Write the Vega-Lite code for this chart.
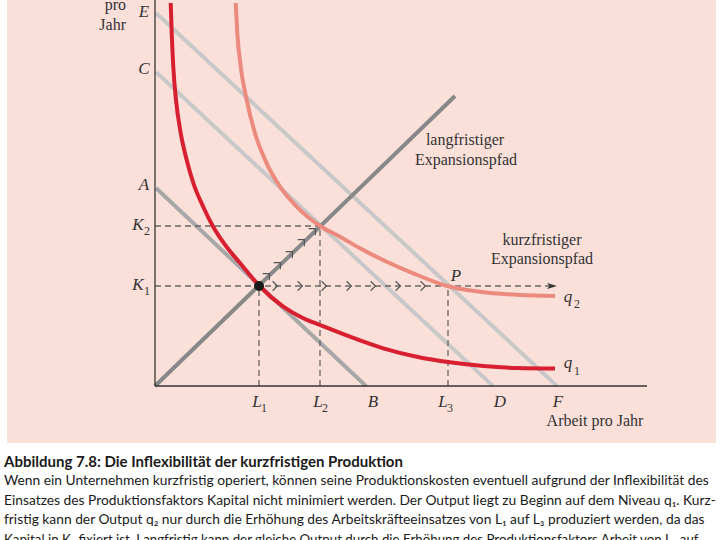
{
 "$schema": "https://vega.github.io/schema/vega-lite/v6.json",
 "width": 722, "height": 540,
 "autosize": {"type": "none"},
 "padding": 0,
 "background": "#ffffff",
 "config": {"view": {"stroke": null}, "axis": {"disable": true}},
 "datasets": {
  "bg": [{"x": -14.8, "x2": 56.1, "y": -5.7, "y2": 38.6}],
  "axes": [{"x": 0, "y": 0, "x2": 0, "y2": 38.6}, {"x": 0, "y": 0, "x2": 49.2, "y2": 0}],
  "isoAB": [{"x": 0.1, "y": 19.8, "x2": 21.1, "y2": 0}],
  "isoCDEF": [{"x": 0.1, "y": 31.4, "x2": 33.8, "y2": 0}, {"x": 0.1, "y": 37.3, "x2": 40.2, "y2": 0}],
  "lr": [{"x": 0, "y": 0, "x2": 30.0, "y2": 29.0}],
  "dash": [
   {"x": 0, "y": 16.0, "x2": 16.5, "y2": 16.0},
   {"x": 0, "y": 10.0, "x2": 39.4, "y2": 10.0},
   {"x": 10.4, "y": 0, "x2": 10.4, "y2": 10.0},
   {"x": 16.5, "y": 0, "x2": 16.5, "y2": 16.0},
   {"x": 29.3, "y": 0, "x2": 29.3, "y2": 10.0}
  ],
  "curves": [
   {"curve": "q1", "x": 1.57, "y": 38.3},
   {"curve": "q1", "x": 1.67, "y": 35.3},
   {"curve": "q1", "x": 1.83, "y": 31.9},
   {"curve": "q1", "x": 2.1, "y": 28.6},
   {"curve": "q1", "x": 2.57, "y": 25.3},
   {"curve": "q1", "x": 3.17, "y": 22.6},
   {"curve": "q1", "x": 3.83, "y": 20.3},
   {"curve": "q1", "x": 4.83, "y": 17.9},
   {"curve": "q1", "x": 5.83, "y": 15.9},
   {"curve": "q1", "x": 7.17, "y": 13.9},
   {"curve": "q1", "x": 8.5, "y": 12.3},
   {"curve": "q1", "x": 10.4, "y": 10.05},
   {"curve": "q1", "x": 12.83, "y": 7.93},
   {"curve": "q1", "x": 14.83, "y": 6.77},
   {"curve": "q1", "x": 16.5, "y": 6.1},
   {"curve": "q1", "x": 19.5, "y": 4.93},
   {"curve": "q1", "x": 22.83, "y": 3.77},
   {"curve": "q1", "x": 26.17, "y": 2.93},
   {"curve": "q1", "x": 29.5, "y": 2.37},
   {"curve": "q1", "x": 32.83, "y": 2.0},
   {"curve": "q1", "x": 36.17, "y": 1.8},
   {"curve": "q1", "x": 40.0, "y": 1.75},
   {"curve": "q2", "x": 8.07, "y": 38.3},
   {"curve": "q2", "x": 8.23, "y": 35.27},
   {"curve": "q2", "x": 8.57, "y": 31.93},
   {"curve": "q2", "x": 9.17, "y": 28.6},
   {"curve": "q2", "x": 10.0, "y": 25.27},
   {"curve": "q2", "x": 11.17, "y": 22.27},
   {"curve": "q2", "x": 12.5, "y": 19.93},
   {"curve": "q2", "x": 14.17, "y": 17.93},
   {"curve": "q2", "x": 16.5, "y": 16.0},
   {"curve": "q2", "x": 18.5, "y": 14.93},
   {"curve": "q2", "x": 20.5, "y": 13.77},
   {"curve": "q2", "x": 23.17, "y": 12.43},
   {"curve": "q2", "x": 25.83, "y": 11.27},
   {"curve": "q2", "x": 29.2, "y": 10.0},
   {"curve": "q2", "x": 32.5, "y": 9.43},
   {"curve": "q2", "x": 36.5, "y": 9.1},
   {"curve": "q2", "x": 40.0, "y": 9.0}
  ],
  "chevH": [{"x": 12.0, "y": 10.0}, {"x": 14.5, "y": 10.0}, {"x": 16.9, "y": 10.0}, {"x": 19.4, "y": 10.0}, {"x": 21.8, "y": 10.0}, {"x": 24.3, "y": 10.0}, {"x": 26.8, "y": 10.0}],
  "chevD": [{"x": 11.1, "y": 10.9}, {"x": 12.2, "y": 12.0}, {"x": 13.4, "y": 13.1}, {"x": 14.6, "y": 14.3}, {"x": 15.7, "y": 15.4}],
  "arrow": [{"x": 39.7, "y": 10.0}],
  "dot": [{"x": 10.4, "y": 10.0}],
  "letters": [
   {"x": -1.1, "y": 37.4, "t": "E"}, {"x": -1.1, "y": 31.7, "t": "C"}, {"x": -1.1, "y": 20.1, "t": "A"},
   {"x": -1.7, "y": 16.1, "t": "K"}, {"x": -1.7, "y": 10.1, "t": "K"},
   {"x": 10.2, "y": -1.6, "t": "L"}, {"x": 16.3, "y": -1.6, "t": "L"}, {"x": 28.8, "y": -1.6, "t": "L"},
   {"x": 21.8, "y": -1.6, "t": "B"}, {"x": 34.5, "y": -1.6, "t": "D"}, {"x": 40.3, "y": -1.6, "t": "F"},
   {"x": 30.1, "y": 11.0, "t": "P"}, {"x": 41.3, "y": 8.9, "t": "q"}, {"x": 41.3, "y": 2.3, "t": "q"}
  ],
  "subs": [
   {"x": -0.8, "y": 15.5, "t": "2"}, {"x": -0.8, "y": 9.5, "t": "1"},
   {"x": 10.9, "y": -2.2, "t": "1"}, {"x": 17.0, "y": -2.2, "t": "2"}, {"x": 29.5, "y": -2.2, "t": "3"},
   {"x": 42.2, "y": 8.2, "t": "2"}, {"x": 42.2, "y": 1.5, "t": "1"}
  ],
  "words": [
   {"x": 31.0, "y": 24.6, "t": "langfristiger"}, {"x": 31.1, "y": 22.6, "t": "Expansionspfad"},
   {"x": 38.7, "y": 14.6, "t": "kurzfristiger"}, {"x": 38.7, "y": 12.7, "t": "Expansionspfad"},
   {"x": 44.0, "y": -3.5, "t": "Arbeit pro Jahr"}
  ],
  "ylab": [{"x": -2.9, "y": 38.1, "t": "pro"}, {"x": -2.9, "y": 36.1, "t": "Jahr"}],
  "title": [{"x": -15.1, "y": -7.6, "t": "Abbildung 7.8: Die Inflexibilität der kurzfristigen Produktion"}],
  "body": [
   {"x": -15.1, "y": -9.5, "t": "Wenn ein Unternehmen kurzfristig operiert, können seine Produktionskosten eventuell aufgrund der Inflexibilität des"},
   {"x": -15.1, "y": -11.45, "t": "Einsatzes des Produktionsfaktors Kapital nicht minimiert werden. Der Output liegt zu Beginn auf dem Niveau q₁. Kurz-"},
   {"x": -15.1, "y": -13.4, "t": "fristig kann der Output q₂ nur durch die Erhöhung des Arbeitskräfteeinsatzes von L₁ auf L₃ produziert werden, da das"}
  ],
  "body5": [
   {"x": -15.1, "y": -15.4, "t": "Kapital in K₁ fixiert ist. Langfristig kann der gleiche Output durch die Erhöhung des Produktionsfaktors Arbeit von L₁ auf"}
  ]
 },
 "encoding": {
  "x": {"field": "x", "type": "quantitative", "scale": {"domain": [-15.5, 56.7], "nice": false, "zero": false}, "axis": null},
  "y": {"field": "y", "type": "quantitative", "scale": {"domain": [-15.4, 38.6], "nice": false, "zero": false}, "axis": null}
 },
 "layer": [
  {"data": {"name": "bg"}, "mark": {"type": "rect", "color": "#fbe0da"}, "encoding": {"x2": {"field": "x2"}, "y2": {"field": "y2"}}},
  {"data": {"name": "isoCDEF"}, "mark": {"type": "rule", "color": "#c8c8c8", "strokeWidth": 4}, "encoding": {"x2": {"field": "x2"}, "y2": {"field": "y2"}}},
  {"data": {"name": "isoAB"}, "mark": {"type": "rule", "color": "#a7a7a7", "strokeWidth": 4}, "encoding": {"x2": {"field": "x2"}, "y2": {"field": "y2"}}},
  {"data": {"name": "dash"}, "mark": {"type": "rule", "color": "#666666", "strokeWidth": 1.3, "strokeDash": [6, 4]}, "encoding": {"x2": {"field": "x2"}, "y2": {"field": "y2"}}},
  {"data": {"name": "lr"}, "mark": {"type": "rule", "color": "#888888", "strokeWidth": 4}, "encoding": {"x2": {"field": "x2"}, "y2": {"field": "y2"}}},
  {"data": {"name": "axes"}, "mark": {"type": "rule", "color": "#333333", "strokeWidth": 1.3}, "encoding": {"x2": {"field": "x2"}, "y2": {"field": "y2"}}},
  {"data": {"name": "curves"}, "mark": {"type": "line", "strokeWidth": 4, "interpolate": "monotone"}, "encoding": {"color": {"field": "curve", "type": "nominal", "scale": {"domain": ["q1", "q2"], "range": ["#d81f30", "#ec8a7e"]}, "legend": null}}},
  {"data": {"name": "chevH"}, "mark": {"type": "point", "shape": "M-0.5,-1L0.5,0L-0.5,1", "size": 90, "filled": false, "color": "#555555", "strokeWidth": 1.2, "opacity": 1}},
  {"data": {"name": "chevD"}, "mark": {"type": "point", "shape": "M-1,-1L1,-1L1,1", "size": 45, "filled": false, "color": "#555555", "strokeWidth": 1.2, "opacity": 1}},
  {"data": {"name": "arrow"}, "mark": {"type": "point", "shape": "M-1,-0.6L1,0L-1,0.6L-0.5,0Z", "size": 100, "filled": true, "color": "#333333", "opacity": 1}},
  {"data": {"name": "dot"}, "mark": {"type": "circle", "size": 100, "color": "#1a1a1a", "opacity": 1}},
  {"data": {"name": "letters"}, "mark": {"type": "text", "font": "Liberation Serif", "fontStyle": "italic", "fontSize": 17, "color": "#333333", "align": "center", "baseline": "middle"}, "encoding": {"text": {"field": "t"}}},
  {"data": {"name": "subs"}, "mark": {"type": "text", "font": "Liberation Serif", "fontSize": 12, "color": "#333333", "align": "center", "baseline": "middle"}, "encoding": {"text": {"field": "t"}}},
  {"data": {"name": "words"}, "mark": {"type": "text", "font": "Liberation Serif", "fontSize": 16, "color": "#333333", "align": "center", "baseline": "middle"}, "encoding": {"text": {"field": "t"}}},
  {"data": {"name": "ylab"}, "mark": {"type": "text", "font": "Liberation Serif", "fontSize": 16, "color": "#333333", "align": "right", "baseline": "middle"}, "encoding": {"text": {"field": "t"}}},
  {"data": {"name": "title"}, "mark": {"type": "text", "font": "Lato", "fontWeight": "bold", "fontSize": 15, "color": "#1a1a1a", "align": "left", "baseline": "middle"}, "encoding": {"text": {"field": "t"}}},
  {"data": {"name": "body"}, "mark": {"type": "text", "font": "Lato", "fontSize": 13.8, "color": "#1a1a1a", "align": "left", "baseline": "middle"}, "encoding": {"text": {"field": "t"}}},
  {"data": {"name": "body5"}, "mark": {"type": "text", "font": "Lato", "fontSize": 13.3, "color": "#1a1a1a", "align": "left", "baseline": "middle"}, "encoding": {"text": {"field": "t"}}}
 ]
}
